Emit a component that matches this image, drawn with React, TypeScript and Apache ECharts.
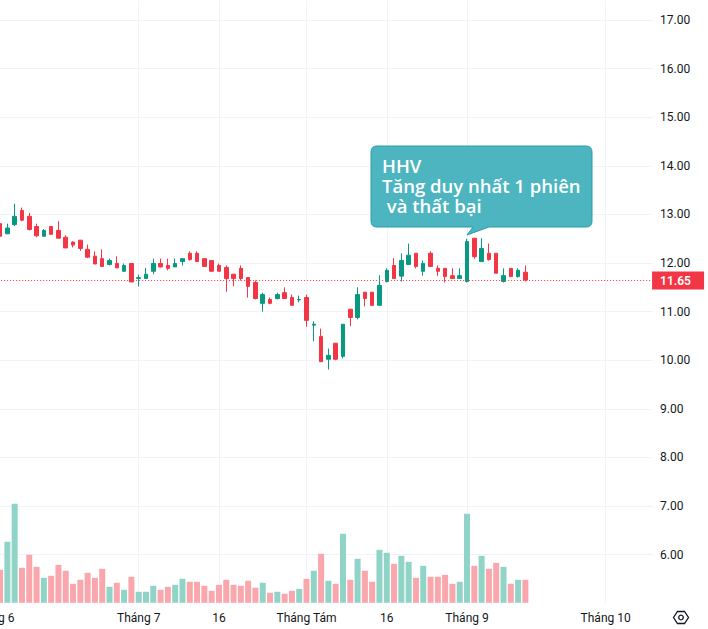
import React, { useEffect, useRef } from "react";
import * as echarts from "echarts";

const tickLabels: [number, string][] = [
  [0, "Tháng 6"], [20, "Tháng 7"], [31, "16"], [43, "Tháng Tám"], [54, "16"], [65, "Tháng 9"], [84, "Tháng 10"],
];
const slotCount = 91;
const opens = [12.81,12.60,12.79,13.08,12.96,12.75,12.55,12.75,12.67,12.53,12.43,12.47,12.28,12.14,12.09,11.97,11.99,11.83,11.99,11.68,11.68,11.83,11.99,11.95,11.92,12.03,12.20,12.20,12.09,12.05,11.95,11.91,11.77,11.89,11.70,11.60,11.17,11.25,11.27,11.39,11.29,11.24,11.29,10.72,10.49,10.02,10.35,10.08,11.05,10.88,11.40,11.40,11.13,11.62,11.95,11.73,11.97,12.20,11.83,12.20,11.89,11.89,11.74,11.68,11.62,12.51,12.03,12.20,12.20,11.62,11.89,11.72,11.81];
const closes = [12.55,12.72,12.96,12.88,12.69,12.56,12.67,12.59,12.51,12.31,12.37,12.30,12.12,11.98,11.93,12.05,11.90,11.95,11.61,11.70,11.77,11.99,11.92,11.89,11.99,12.09,12.07,12.03,11.93,11.83,11.83,11.68,11.68,11.68,11.52,11.27,11.35,11.17,11.35,11.27,11.13,11.25,10.82,10.74,9.97,10.10,10.02,10.74,10.88,11.35,11.27,11.13,11.54,11.85,11.68,12.05,12.16,11.93,11.99,11.93,11.83,11.72,11.68,11.74,12.44,12.13,12.30,12.07,11.79,11.74,11.72,11.85,11.65];
const lows = [12.53,12.60,12.76,12.86,12.67,12.53,12.55,12.59,12.51,12.31,12.32,12.25,12.10,11.98,11.92,11.95,11.90,11.83,11.61,11.52,11.68,11.77,11.91,11.85,11.92,11.95,12.05,12.03,11.92,11.83,11.83,11.41,11.52,11.64,11.29,11.25,11.00,11.15,11.25,11.27,11.13,11.19,10.69,10.39,9.97,9.81,10.00,10.04,10.70,10.84,11.11,11.11,11.13,11.60,11.68,11.62,11.97,11.89,11.74,11.93,11.74,11.60,11.68,11.68,11.60,12.09,12.03,12.05,11.79,11.60,11.72,11.70,11.62];
const highs = [12.85,12.81,13.22,13.14,13.03,12.81,12.70,12.75,12.86,12.57,12.45,12.47,12.38,12.24,12.28,12.09,12.14,11.99,11.99,11.76,11.90,12.09,12.09,12.09,12.09,12.09,12.24,12.24,12.09,12.05,11.99,11.95,11.77,11.95,11.70,11.64,11.39,11.29,11.39,11.50,11.35,11.33,11.35,10.80,10.65,10.24,10.35,10.74,11.05,11.50,11.40,11.40,11.75,11.89,12.10,12.20,12.40,12.20,12.05,12.24,11.95,11.89,11.89,11.89,12.50,12.51,12.51,12.40,12.20,11.89,11.89,11.89,11.95];
const volumesM = [4.35,8.04,13.04,4.61,6.32,4.74,3.29,3.56,5.0,4.22,2.5,3.03,3.95,3.29,4.48,2.11,2.64,1.71,3.43,1.45,1.45,2.24,1.71,2.11,2.37,3.16,2.77,2.77,2.24,1.58,2.37,3.03,2.37,2.24,2.9,1.98,2.64,1.32,1.45,1.19,1.58,1.84,3.16,4.22,6.46,2.9,2.5,9.09,3.03,5.8,4.22,2.77,6.98,6.59,5.14,6.19,5.4,3.29,4.87,3.43,3.43,3.69,2.5,2.77,11.73,4.87,6.19,4.48,5.27,4.74,2.5,3.03,3.031];
const lastPriceLabel = "11.65";
const lastPriceLevel = 11.64; // level of the dotted line
const lastVolume = 3.031;
const calloutLines = ["HHV", "Tăng duy nhất 1 phiên", " và thất bại"];

const UP = "#089981";
const DOWN = "#f23645";
const UP_VOL = "#90d3c7";
const DOWN_VOL = "#f9a6ad";
const GRID = "#f1f3f8";
const TEXT = "#131722";
const FONT = "Roboto, sans-serif";

echarts.graphic.registerShape(
  "callout",
  echarts.graphic.extendPath(
    "M377 146H586Q592 146 592 152V221Q592 227 586 227H489L467 235L473 227H377Q371 227 371 221V152Q371 146 377 146Z",
    {}
  )
);

export default function App() {
  const ref = useRef<HTMLDivElement>(null);
  useEffect(() => {
    const chart = echarts.init(ref.current!, undefined, { renderer: "svg" });
    const categories = Array.from({ length: slotCount }, (_, i) => {
      const t = tickLabels.find((x) => x[0] === i);
      return t ? t[1] : "";
    });
    const isTick = (i: number) => categories[i] !== "";
    const candles = opens.map((o, i) => [o, closes[i], lows[i], highs[i]]);
    const baseBox = { left: -10.87, width: 663.94, outerBoundsMode: "none", containLabel: false };
    chart.setOption({
      animation: false,
      backgroundColor: "#ffffff",
      textStyle: { fontFamily: FONT },
      grid: [
        { ...baseBox, top: 0.5, height: 602.8 },
        { ...baseBox, top: 0, height: 602.8 },
      ],
      xAxis: [0, 1].map((g) => ({
        type: "category",
        gridIndex: g,
        data: categories,
        show: g === 0,
        axisLine: { show: false },
        axisTick: { show: false },
        axisLabel: {
          show: g === 0,
          interval: (i: number) => isTick(i),
          color: TEXT,
          fontSize: 12,
          fontFamily: FONT,
          margin: 8.5,
          hideOverlap: false,
        },
        splitLine: {
          show: g === 0,
          interval: (i: number) => isTick(i),
          alignWithLabel: true,
          lineStyle: { color: GRID, width: 1 },
        },
      })),
      yAxis: [
        {
          type: "value",
          gridIndex: 0,
          position: "right",
          min: 5,
          max: 17.4,
          interval: 1,
          axisLine: { show: false },
          axisTick: { show: false },
          axisLabel: {
            color: TEXT,
            fontSize: 12,
            fontFamily: FONT,
            margin: 7,
            showMinLabel: false,
            showMaxLabel: false,
            formatter: (v: number) => v.toFixed(2),
          },
          splitLine: { show: true, showMinLine: false, showMaxLine: false, lineStyle: { color: GRID, width: 1 } },
        },
        { type: "value", gridIndex: 1, min: 0, max: 79.4, show: false, splitLine: { show: false } },
      ],
      series: [
        {
          type: "bar",
          xAxisIndex: 1,
          yAxisIndex: 1,
          barWidth: 6,
          z: 2,
          data: ["-", ...volumesM.map((v, i) => ({
            value: v,
            itemStyle: { color: closes[i] >= opens[i] ? UP_VOL : DOWN_VOL },
          }))],
          markLine: {
            silent: true,
            symbol: "none",
            animation: false,
            lineStyle: { opacity: 0, width: 0 },
            label: {
              position: "end",
              distance: -1,
              formatter: () => lastVolume.toFixed(3) + "M",
              color: "#ffffff",
              fontSize: 12,
              fontWeight: 600,
              fontFamily: FONT,
              backgroundColor: "#f7525f",
              padding: [3, 8, 3, 8],
              width: 36,
              align: "left",
            },
            data: [{ yAxis: lastVolume }],
          },
        },
        {
          type: "candlestick",
          xAxisIndex: 0,
          yAxisIndex: 0,
          barWidth: 4,
          z: 3,
          itemStyle: { color: UP, color0: DOWN, borderColor: UP, borderColor0: DOWN, borderWidth: 1 },
          data: [["-", "-", "-", "-"], ...candles],
          markLine: {
            silent: true,
            symbol: "none",
            animation: false,
            lineStyle: { color: DOWN, type: [1, 2], width: 1, opacity: 1 },
            label: {
              position: "end",
              distance: -1,
              formatter: () => lastPriceLabel,
              color: "#ffffff",
              fontSize: 12,
              fontWeight: 600,
              fontFamily: FONT,
              backgroundColor: DOWN,
              padding: [3, 8, 3, 8],
              width: 36,
              align: "left",
            },
            data: [{ yAxis: lastPriceLevel }],
          },
        },
      ],
      graphic: [
        {
          type: "callout",
          x: 0,
          y: 0,
          z: 100,
          style: { fill: "#4cb5c0", stroke: "#2a9dab", lineWidth: 1 },
        },
        {
          type: "text",
          x: 382,
          y: 155,
          z: 101,
          style: {
            text: calloutLines.join("\n"),
            fill: "#ffffff",
            font: "600 18.5px 'Open Sans', sans-serif",
            lineHeight: 20,
          },
        },
        {
          type: "polygon",
          z: 100,
          shape: { points: [[673.5, 617.5], [677.5, 611.5], [684.5, 611.5], [688.5, 617.5], [684.5, 623.5], [677.5, 623.5]] },
          style: { fill: "none", stroke: TEXT, lineWidth: 1.3 },
        },
        {
          type: "circle",
          z: 100,
          shape: { cx: 681, cy: 617.5, r: 2.3 },
          style: { fill: "none", stroke: TEXT, lineWidth: 1.3 },
        },
      ],
    });
    return () => chart.dispose();
  }, []);
  return <div ref={ref} style={{ position: "fixed", left: 0, top: 0, width: 708, height: 629 }} />;
}
